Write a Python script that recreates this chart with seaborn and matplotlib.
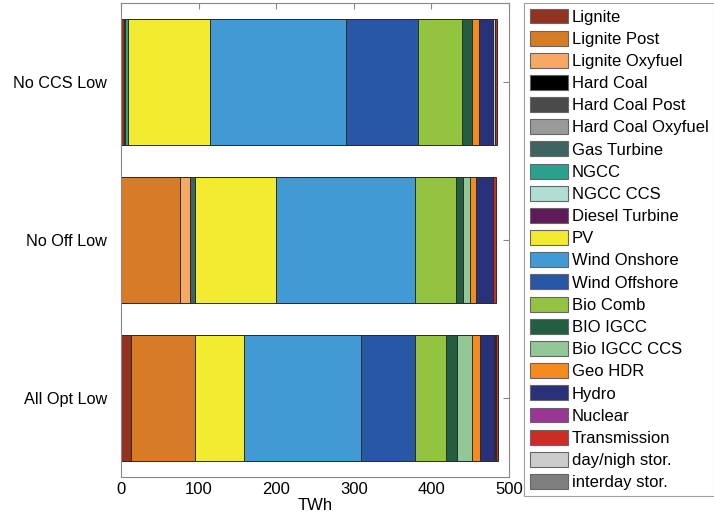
import matplotlib
matplotlib.use("Agg")
import matplotlib.pyplot as plt
from matplotlib.patches import Patch
import seaborn as sns
import numpy as np
import pandas as pd

sns.set_style("white")
plt.rcParams['font.family'] = ['Liberation Sans', 'DejaVu Sans']
plt.rcParams['text.color'] = 'black'
plt.rcParams['axes.labelcolor'] = 'black'
plt.rcParams['xtick.color'] = 'black'
plt.rcParams['ytick.color'] = 'black'

scenarios = ["No CCS Low", "No Off Low", "All Opt Low"]

technologies = ["Lignite", "Lignite Post", "Lignite Oxyfuel", "Hard Coal", "Hard Coal Post",
                "Hard Coal Oxyfuel", "Gas Turbine", "NGCC", "NGCC CCS", "Diesel Turbine",
                "PV", "Wind Onshore", "Wind Offshore", "Bio Comb", "BIO IGCC", "Bio IGCC CCS",
                "Geo HDR", "Hydro", "Nuclear", "Transmission", "day/nigh stor.", "interday stor."]

colors = ["#943222", "#D67C27", "#F7A964", "#000000", "#4A4A4A", "#9A9A9A", "#3E6461",
          "#2BA08D", "#B0DED4", "#5E1B5A", "#F2EB2F", "#429AD4", "#2757A5", "#94C43F",
          "#245E40", "#92C896", "#F58A1F", "#283179", "#9A3795", "#CD2C24", "#CCCCCC",
          "#7F7F7F"]

# TWh per technology, for [No CCS Low, No Off Low, All Opt Low]
lignite = [4, 0, 13]
lignite_post = [0, 76, 82.5]
lignite_oxy = [0, 13.5, 0]
hard_coal = [0, 0, 0]
hard_coal_post = [0, 0, 0]
hard_coal_oxy = [0, 0, 0]
gas_turbine = [1, 5.5, 0]
ngcc = [4, 0, 0]
ngcc_ccs = [0, 0, 0]
diesel = [0, 0, 0]
pv = [106, 105, 63]
wind_on = [175, 179, 150.5]
wind_off = [93, 0, 69.5]
bio_comb = [57, 53, 40]
bio_igcc = [12.5, 8.5, 14]
bio_igcc_ccs = [0, 9, 19.5]
geo_hdr = [8.5, 8.5, 10]
hydro = [19, 22, 19]
nuclear = [0, 0, 0]
transmission = [2.5, 3, 2.5]
day_stor = [1.5, 0, 0.5]
interday_stor = [1, 0, 2]

series = [lignite, lignite_post, lignite_oxy, hard_coal, hard_coal_post, hard_coal_oxy,
          gas_turbine, ngcc, ngcc_ccs, diesel, pv, wind_on, wind_off, bio_comb, bio_igcc,
          bio_igcc_ccs, geo_hdr, hydro, nuclear, transmission, day_stor, interday_stor]

# stacking order as seen in the bars (storage segments before transmission)
stack_order = list(range(19)) + [20, 21, 19]

fig = plt.figure(figsize=(7.14, 5.2), dpi=100)
ax = fig.add_axes([121 / 714, 43 / 520, 388 / 714, 474 / 520])

cum = np.zeros(len(scenarios))
cums = []
for i in stack_order:
    cum = cum + np.array(series[i], dtype=float)
    cums.append((i, cum.copy()))

for i, c in reversed(cums):
    df = pd.DataFrame({"scenario": scenarios, "value": c})
    sns.barplot(data=df, x="value", y="scenario", orient="h", color=colors[i],
                saturation=1, width=0.8, edgecolor="#2b2b2b", linewidth=0.7, ax=ax)

ax.set_xlim(0, 500)
ax.set_xticks([0, 100, 200, 300, 400, 500])
ax.set_xlabel("TWh", fontsize=12, labelpad=1)
ax.set_ylabel("")
ax.tick_params(axis="both", direction="in", top=True, right=True, length=4,
               color="#888888", labelsize=12)
ax.tick_params(axis="y", pad=10, left=False, labelsize=11.7)
for s in ax.spines.values():
    s.set_color("#888888")
    s.set_linewidth(0.8)

handles = [Patch(facecolor=colors[i], edgecolor="#666666", linewidth=0.8)
           for i in range(len(technologies))]
leg = fig.legend(handles, technologies, loc="upper left",
                 bbox_to_anchor=(524 / 714, 1 - 3 / 520), fontsize=12,
                 frameon=True, fancybox=False, edgecolor="#888888",
                 handlelength=2.3, handleheight=1.0, handletextpad=0.25,
                 labelspacing=0.36, borderpad=0.33, borderaxespad=0)
leg.get_frame().set_linewidth(0.8)

fig.savefig("out.png", dpi=100)
